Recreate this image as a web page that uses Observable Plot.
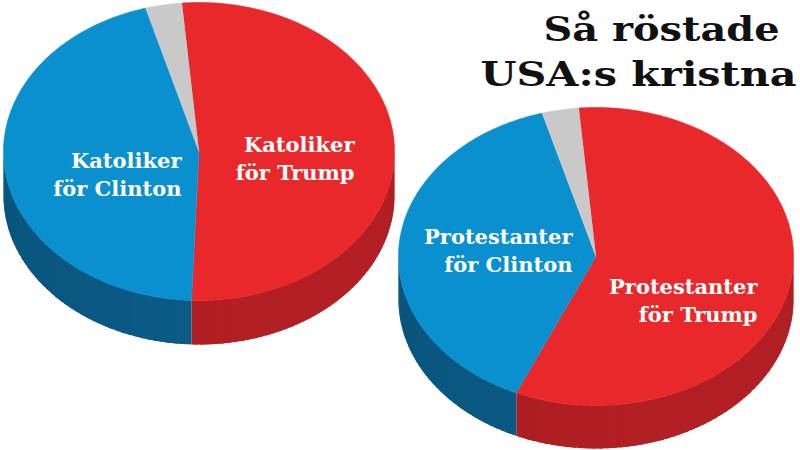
<!DOCTYPE html>
<html><head><meta charset="utf-8">
<script src="https://cdn.jsdelivr.net/npm/d3@7"></script>
<script src="https://cdn.jsdelivr.net/npm/@observablehq/plot@0.6"></script>
<style>body{margin:0;background:#fff;overflow:hidden}</style>
</head><body><div id="chart"></div>
<script>
// ---- data ----
const groups = ["Katoliker", "Protestanter"];
const trump = [52, 58];
const clinton = [45, 39];
const other = [3, 3];
const clintonLabels = ["Katoliker\nför Clinton", "Protestanter\nför Clinton"];
const trumpLabels = ["Katoliker\nför Trump", "Protestanter\nför Trump"];
const titleLines = ["Så röstade", "USA:s kristna"];

// ---- layout (pixels) ----
const pies = [
  {cx: 198.5, cy: 151, rx: 195.5, ry: 149, depth: 44, start: -5, cl: [181, 165], tr: [354, 149]},
  {cx: 595.5, cy: 256, rx: 197.5, ry: 149, depth: 43, start: -5, cl: [572, 241], tr: [757, 291]}
];
const titlePos = [[779, 40], [796, 85]];
const titleWidth = [236, 316];
const topColor = {Trump: "#e9282b", Clinton: "#0a8fcf", Other: "#c9c9c9"};
const sideColor = {Trump: ["#9c1b1f", "#b31f24"], Clinton: ["#08527a", "#0b5c88"], Other: ["#9a9a9a", "#b0b0b0"]};
const FONT = "'DejaVu Serif', serif";

const rad = d => d * Math.PI / 180;
function pt(p, t, dz = 0) {
  return {x: p.cx + p.rx * Math.sin(rad(t)), y: p.cy - p.ry * Math.cos(rad(t)) + dz};
}
function arc(a, b) {
  const n = Math.max(2, Math.ceil(Math.abs(b - a)));
  return d3.range(n + 1).map(i => a + (b - a) * i / n);
}

const topRows = [], sideRows = [];
groups.forEach((g, i) => {
  const p = pies[i];
  const slices = [
    {k: "Trump", v: trump[i]},
    {k: "Clinton", v: clinton[i]},
    {k: "Other", v: other[i]}
  ];
  const total = d3.sum(slices, s => s.v);
  let a = p.start;
  slices.forEach(s => {
    const b = a + 360 * s.v / total;
    const id = `${g}-${s.k}`;
    // top face
    topRows.push({id, color: topColor[s.k], x: p.cx, y: p.cy});
    arc(a, b).forEach(t => topRows.push({id, color: topColor[s.k], ...pt(p, t)}));
    // visible side (front half 90..270), drawn as overlapping strips for shading
    const a0 = Math.max(a, 90), b0 = Math.min(b, 270);
    if (b0 > a0) {
      const n = Math.ceil((b0 - a0) / 2);
      for (let m = 0; m < n; m++) {
        const t0 = a0 + (b0 - a0) * m / n;
        const t1 = m === n - 1 ? b0 : Math.min(b0, a0 + (b0 - a0) * (m + 1) / n + 1.5);
        const tm = a0 + (b0 - a0) * (m + 0.5) / n;
        const shade = 0.5 + 0.5 * Math.cos(rad(tm - 140));
        const c = d3.interpolateRgb(sideColor[s.k][0], sideColor[s.k][1])(shade);
        const sid = `${id}-side-${m}`;
        const ts = arc(t0, t1);
        ts.forEach(t => sideRows.push({id: sid, color: c, ...pt(p, t)}));
        ts.slice().reverse().forEach(t => sideRows.push({id: sid, color: c, ...pt(p, t, p.depth)}));
      }
    }
    a = b;
  });
});

const FS = 21, LH = 28;
const labelRows = [];
groups.forEach((g, i) => {
  const p = pies[i];
  labelRows.push({x: p.cl[0], y: p.cl[1] + LH / 2 - 0.32 * FS, text: clintonLabels[i]});
  labelRows.push({x: p.tr[0], y: p.tr[1] + LH / 2 - 0.32 * FS, text: trumpLabels[i]});
});
const TFS = 34;
const titleRows = titleLines.map((t, i) => ({x: titlePos[i][0], y: titlePos[i][1] - 0.32 * TFS, text: t}));

const chart = Plot.plot({
  width: 800, height: 450, margin: 0,
  x: {domain: [0, 800], range: [0, 800], axis: null},
  y: {domain: [0, 450], range: [0, 450], axis: null},
  color: {type: "identity"},
  style: {background: "#fff"},
  marks: [
    Plot.line(sideRows, {x: "x", y: "y", z: "id", fill: "color", stroke: "none", curve: "linear"}),
    Plot.line(topRows, {x: "x", y: "y", z: "id", fill: "color", stroke: "color", strokeWidth: 0.6, curve: "linear"}),
    Plot.text(labelRows, {x: "x", y: "y", text: "text", textAnchor: "end", lineAnchor: "middle",
      lineHeight: LH / FS, fill: "white", fontSize: FS, fontWeight: "bold", fontFamily: FONT}),
    Plot.text(titleRows, {x: "x", y: "y", text: "text", textAnchor: "end", lineAnchor: "middle",
      fill: "#111", fontSize: TFS, fontWeight: "bold", fontFamily: FONT})
  ]
});
// stretch title lines to the reference's width
d3.select(chart).selectAll("text").each(function () {
  const k = titleLines.indexOf(this.textContent);
  if (k >= 0) {
    this.setAttribute("textLength", titleWidth[k]);
    this.setAttribute("lengthAdjust", "spacingAndGlyphs");
  }
});
document.getElementById("chart").append(chart);
</script>
</body></html>
